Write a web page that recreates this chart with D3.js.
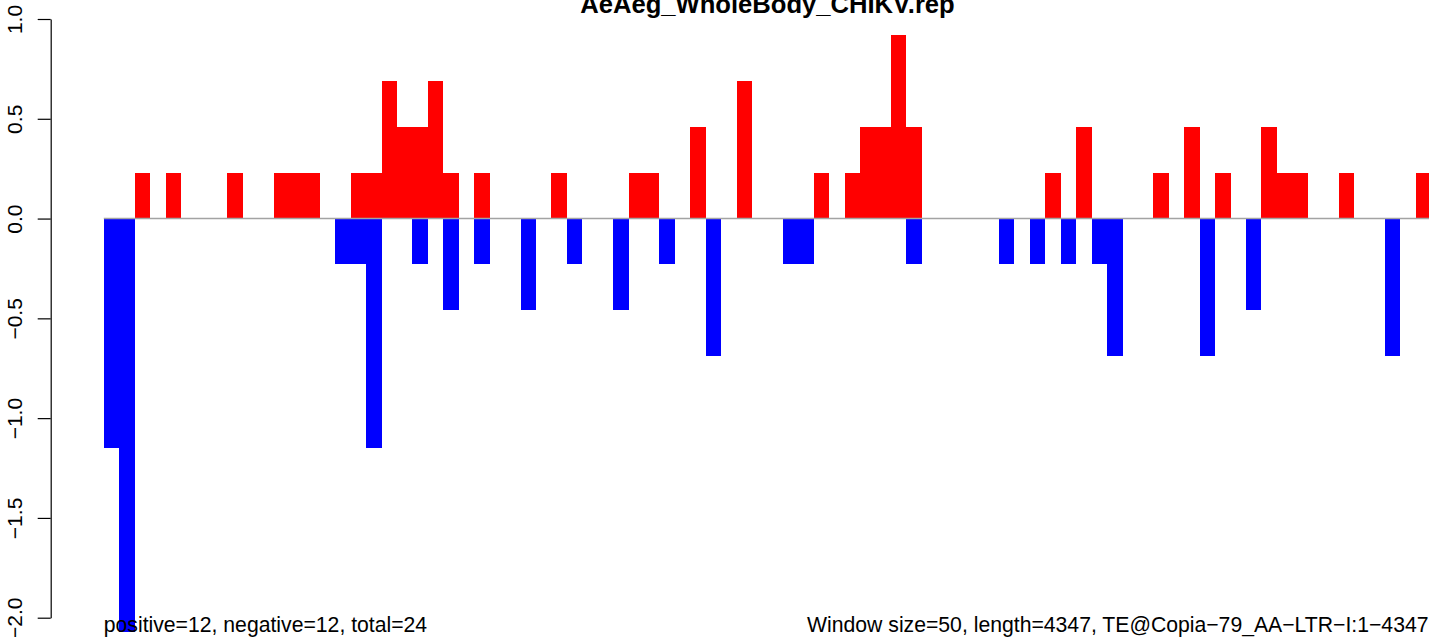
<!DOCTYPE html>
<html>
<head>
<meta charset="utf-8">
<script src="https://cdn.jsdelivr.net/npm/d3@7"></script>
<style>
  html, body { margin: 0; padding: 0; background: #fff; }
  svg { display: block; font-family: "Liberation Sans", Arial, Helvetica, sans-serif; }
</style>
</head>
<body>
<svg id="chart" width="1429" height="637"></svg>
<script>
// ---- data ----
const title = "AeAeg_WholeBody_CHIKV.rep";
const windowSize = 50;
const seqLength = 4347;
const binStarts = d3.range(0, 4350, 50); // 87 windows: 0,50,...,4300
const positiveValues = [
  0, 0, 0.23, 0, 0.23, 0, 0, 0, 0.23, 0,
  0, 0.23, 0.23, 0.23, 0, 0, 0.23, 0.23, 0.69, 0.46,
  0.46, 0.69, 0.23, 0, 0.23, 0, 0, 0, 0, 0.23,
  0, 0, 0, 0, 0.23, 0.23, 0, 0, 0.46, 0,
  0, 0.69, 0, 0, 0, 0, 0.23, 0, 0.23, 0.46,
  0.46, 0.92, 0.46, 0, 0, 0, 0, 0, 0, 0,
  0, 0.23, 0, 0.46, 0, 0, 0, 0, 0.23, 0,
  0.46, 0, 0.23, 0, 0, 0.46, 0.23, 0.23, 0, 0,
  0.23, 0, 0, 0, 0, 0.23, 0
];
const negativeValues = [
  -1.15, -2.07, 0, 0, 0, 0, 0, 0, 0, 0,
  0, 0, 0, 0, 0, -0.23, -0.23, -1.15, 0, 0,
  -0.23, 0, -0.46, 0, -0.23, 0, 0, -0.46, 0, 0,
  -0.23, 0, 0, -0.46, 0, 0, -0.23, 0, 0, -0.69,
  0, 0, 0, 0, -0.23, -0.23, 0, 0, 0, 0,
  0, 0, -0.23, 0, 0, 0, 0, 0, -0.23, 0,
  -0.23, 0, -0.23, 0, -0.23, -0.69, 0, 0, 0, 0,
  0, -0.69, 0, 0, -0.46, 0, 0, 0, 0, 0,
  0, 0, 0, -0.69, 0, 0, 0
];
const yTicks = [-2.0, -1.5, -1.0, -0.5, 0.0, 0.5, 1.0];
const yTickLabels = ["\u22122.0", "\u22121.5", "\u22121.0", "\u22120.5", "0.0", "0.5", "1.0"];
const leftNote = "positive=12, negative=12, total=24";
const rightNote = "Window size=50, length=4347, TE@Copia\u221279_AA\u2212LTR\u2212I:1\u22124347";

// ---- layout ----
const svg = d3.select("#chart");
const xMin = 0, xMax = 4300;
const pad = 0.04 * (xMax - xMin);
const x = d3.scaleLinear().domain([xMin - pad, xMax + pad]).range([50.7, 1484.3]);
const y = d3.scaleLinear().domain([-2, 1]).range([617.7, 19]);

const bars = svg.append("g").attr("shape-rendering", "crispEdges");

bars.selectAll("rect.pos")
  .data(binStarts.map((s, i) => ({ s, v: positiveValues[i] })).filter(d => d.v > 0))
  .join("rect")
  .attr("class", "pos")
  .attr("x", d => x(d.s))
  .attr("width", d => x(d.s + windowSize) - x(d.s))
  .attr("y", d => y(d.v))
  .attr("height", d => y(0) - y(d.v))
  .attr("fill", "#ff0000");

bars.selectAll("rect.neg")
  .data(binStarts.map((s, i) => ({ s, v: negativeValues[i] })).filter(d => d.v < 0))
  .join("rect")
  .attr("class", "neg")
  .attr("x", d => x(d.s))
  .attr("width", d => x(d.s + windowSize) - x(d.s))
  .attr("y", d => y(0))
  .attr("height", d => y(d.v) - y(0))
  .attr("fill", "#0000ff");

// zero line
svg.append("line")
  .attr("x1", x(0)).attr("x2", x(seqLength))
  .attr("y1", y(0)).attr("y2", y(0))
  .attr("stroke", "#a3a3a3")
  .attr("stroke-width", 1.5);

// y axis
const yAxis = d3.axisLeft(y)
  .tickValues(yTicks)
  .tickFormat((d, i) => yTickLabels[i])
  .tickSize(13)
  .tickSizeOuter(0);

const ag = svg.append("g")
  .attr("transform", `translate(${x(xMin - pad)},0)`)
  .call(yAxis);
ag.select(".domain").attr("stroke", "#000").attr("stroke-width", 1.2);
ag.selectAll(".tick line").attr("stroke", "#000").attr("stroke-width", 1.2);
ag.selectAll(".tick text")
  .attr("fill", "#000")
  .attr("font-size", 21)
  .attr("font-family", "Liberation Sans, Arial, sans-serif")
  .attr("text-anchor", "middle")
  .attr("x", null).attr("dy", null)
  .attr("transform", "translate(-29,0) rotate(-90)");

// title
svg.append("text")
  .attr("x", (x.range()[0] + x.range()[1]) / 2)
  .attr("y", 13)
  .attr("text-anchor", "middle")
  .attr("font-weight", "bold")
  .attr("font-size", 25.6)
  .attr("fill", "#000")
  .text(title);

// bottom notes
svg.append("text")
  .attr("x", x(0))
  .attr("y", 632)
  .attr("font-size", 21.2)
  .attr("fill", "#000")
  .text(leftNote);

svg.append("text")
  .attr("x", 1428.5)
  .attr("y", 632)
  .attr("text-anchor", "end")
  .attr("font-size", 21.2)
  .attr("fill", "#000")
  .text(rightNote);
</script>
</body>
</html>
